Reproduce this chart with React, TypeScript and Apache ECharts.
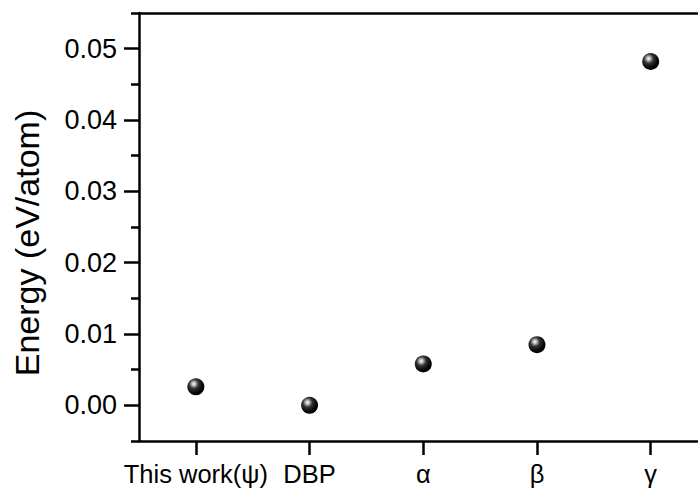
import React, { useEffect, useRef } from "react";
import * as echarts from "echarts";

const categories = ["This work(ψ)", "DBP", "α", "β", "γ"];
const energies = [0.0026, 0.0, 0.0058, 0.0085, 0.0482];
const majorTicks = [0, 0.01, 0.02, 0.03, 0.04, 0.05];
const minorTicks = [-0.005, 0.005, 0.015, 0.025, 0.035, 0.045, 0.055];
const yTitle = "Energy (eV/atom)";

export default function App() {
  const ref = useRef<HTMLDivElement>(null);
  useEffect(() => {
    if (!ref.current) return;
    const chart = echarts.init(ref.current, undefined, { renderer: "svg" });
    const font = "Liberation Sans";
    const positions = categories.map((_, i) => i + 1);
    const lineStyle = { color: "#000", width: 2.5 };
    chart.setOption({
      animation: false,
      backgroundColor: "#fff",
      grid: { left: 139, right: 0, top: 13, bottom: 53, containLabel: false },
      xAxis: [
        {
          type: "value",
          position: "bottom",
          min: 0.5,
          max: 5.416,
          splitLine: { show: false },
          axisLine: { show: true, onZero: false, lineStyle },
          axisTick: {
            show: true,
            inside: false,
            length: 14,
            customValues: positions,
            lineStyle,
          },
          axisLabel: {
            show: true,
            customValues: positions,
            margin: 20,
            color: "#000",
            fontFamily: font,
            fontSize: 25.5,
            formatter: (v: number) => categories[Math.round(v) - 1] ?? "",
          },
        },
        {
          type: "value",
          position: "top",
          min: 0.5,
          max: 5.416,
          splitLine: { show: false },
          axisLine: { show: true, onZero: false, lineStyle },
          axisTick: { show: false },
          axisLabel: { show: false },
        },
      ],
      yAxis: [
        {
          type: "value",
          position: "left",
          min: -0.005,
          max: 0.055,
          splitLine: { show: false },
          axisLine: { show: true, onZero: false, lineStyle },
          axisTick: {
            show: true,
            inside: false,
            length: 15,
            customValues: majorTicks,
            lineStyle,
          },
          axisLabel: {
            show: true,
            customValues: majorTicks,
            margin: 22,
            color: "#000",
            fontFamily: font,
            fontSize: 27,
            formatter: (v: number) => v.toFixed(2),
          },
        },
        {
          type: "value",
          position: "left",
          min: -0.005,
          max: 0.055,
          splitLine: { show: false },
          axisLine: { show: false, onZero: false },
          axisTick: {
            show: true,
            inside: false,
            length: 8,
            customValues: minorTicks,
            lineStyle,
          },
          axisLabel: { show: false },
        },
      ],
      graphic: [
        {
          type: "text",
          x: 27,
          y: 243,
          rotation: Math.PI / 2,
          style: {
            text: yTitle,
            fontFamily: font,
            fontSize: 34,
            fill: "#000",
            align: "center",
            verticalAlign: "middle",
          },
        },
      ],
      series: [
        {
          type: "scatter",
          xAxisIndex: 0,
          yAxisIndex: 0,
          symbol: "circle",
          symbolSize: 17,
          data: energies.map((e, i) => [positions[i], e]),
          itemStyle: {
            color: {
              type: "radial",
              x: 0.38,
              y: 0.33,
              r: 0.7,
              colorStops: [
                { offset: 0, color: "#ffffff" },
                { offset: 0.12, color: "#cfcfcf" },
                { offset: 0.4, color: "#333333" },
                { offset: 0.75, color: "#080808" },
                { offset: 1, color: "#000000" },
              ],
            },
            opacity: 1,
          },
        },
      ],
    });
    return () => chart.dispose();
  }, []);
  return <div ref={ref} style={{ width: 698, height: 494, position: "absolute", left: 0, top: 0 }} />;
}
